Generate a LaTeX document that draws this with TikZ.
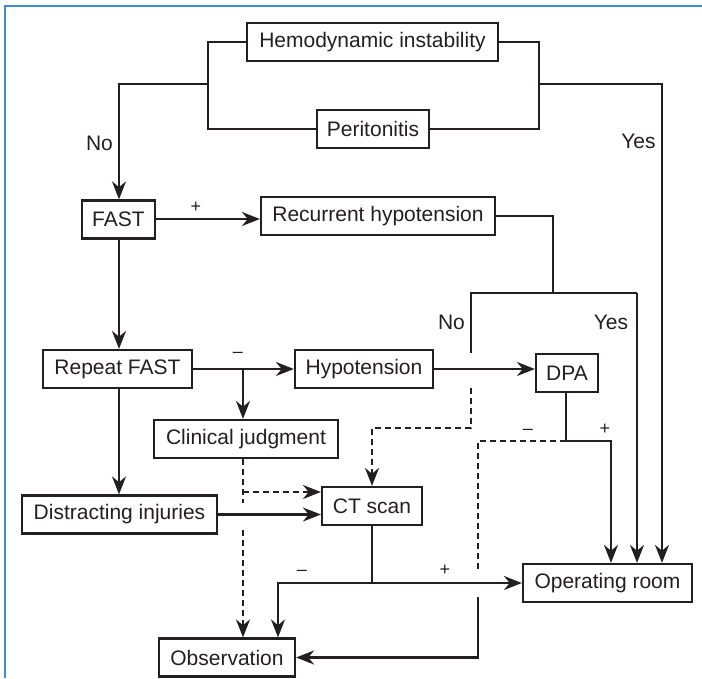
\documentclass[tikz,border=0pt]{standalone}
\usepackage{fontspec}
\setmainfont{Liberation Sans}
\usetikzlibrary{arrows.meta}
\definecolor{ink}{HTML}{231F20}
\definecolor{frameblue}{HTML}{3A8FD0}
\begin{document}
\begin{tikzpicture}[x=1pt,y=-1pt,
  box/.style={draw=ink, line width=2.2pt, minimum height=38pt, inner sep=0pt, font=\fontsize{21}{24}\selectfont, text=ink},
  ln/.style={draw=ink, line width=2.2pt},
  tip/.style={-{Stealth[length=18pt,width=14pt]}},
  arr/.style={ln, tip},
  dsh/.style={ln, dash pattern=on 6pt off 4pt},
  lbl/.style={font=\fontsize{21}{24}\selectfont, text=ink, inner sep=0pt},
  sgn/.style={font=\fontsize{18}{20}\selectfont, text=ink, inner sep=0pt}]
\useasboundingbox (0,0) rectangle (702,678);
% frame (top and left only)
\draw[frameblue, line width=2pt] (5,678) -- (5,5.5) -- (702,5.5);

% boxes
\node[box, minimum width=251pt] (hemo)  at (372.5,42)  {Hemodynamic instability};
\node[box, minimum width=112pt] (perit) at (373,129)   {Peritonitis};
\node[box, minimum width=73pt]  (fast)  at (118.5,219.5) {FAST};
\node[box, minimum width=234pt] (recur) at (378,216)   {Recurrent hypotension};
\node[box, minimum width=149pt] (rfast) at (117.5,369) {Repeat FAST};
\node[box, minimum width=138pt] (hypo)  at (364,369)   {Hypotension};
\node[box, minimum width=62pt]  (dpa)   at (567,373)   {DPA};
\node[box, minimum width=184pt] (clin)  at (246,439)   {Clinical judgment};
\node[box, minimum width=100pt] (ct)    at (372,506)   {CT scan};
\node[box, minimum width=195pt] (dist)  at (119.5,514.5) {Distracting injuries};
\node[box, minimum width=136pt] (obs)   at (227,657.5) {Observation};
\node[box, minimum width=169pt] (oroom) at (607.5,583) {Operating room};

% junction coordinates
\coordinate (lbt) at (208,42);
\coordinate (lbb) at (208,129);
\coordinate (lbm) at (208,84);
\coordinate (lbo) at (119,84);
\coordinate (rbt) at (539,42);
\coordinate (rbb) at (539,129);
\coordinate (rbm) at (539,84);
\coordinate (rbo) at (662,84);
\coordinate (fx)  at (119,219);
\coordinate (rc1) at (553,216);
\coordinate (rc2) at (553,293);
\coordinate (rcl) at (471,293);
\coordinate (rcr) at (637,293);
\coordinate (rcn) at (471,353);
\coordinate (rcd) at (471,388);
\coordinate (rce) at (471,428);
\coordinate (rcf) at (372,428);
\coordinate (rfj) at (243,369);
\coordinate (dp1) at (566,441);
\coordinate (dp2) at (611,441);
\coordinate (dp3) at (478,441);
\coordinate (dp4) at (478,569);
\coordinate (cj1) at (243,503);
\coordinate (cj2) at (243,492);
\coordinate (cj3) at (243,530);
\coordinate (ct1) at (372,583);
\coordinate (ct2) at (278,583);
\coordinate (ob1) at (478,597);
\coordinate (ob2) at (478,657.5);

% left bracket -> FAST
\draw[ln] (hemo.west) -- (lbt) -- (lbb) -- (perit.west);
\draw[arr] (lbm) -- (lbo) -- (lbo |- fast.north);
% right bracket -> OR
\draw[ln] (hemo.east) -- (rbt) -- (rbb) -- (perit.east);
\draw[arr] (rbm) -- (rbo) -- (rbo |- oroom.north);

% FAST
\draw[arr] (fx -| fast.east) -- (fx -| recur.west);
\draw[arr] (fx |- fast.south) -- (fx |- rfast.north);

% recurrent hypotension
\draw[ln] (recur.east) -- (rc1) -- (rc2);
\draw[ln] (rcn) -- (rcl) -- (rcr);
\draw[arr] (rcr) -- (rcr |- oroom.north);
\draw[dsh, tip] (rcd) -- (rce) -- (rcf) -- (ct.north);

% repeat FAST
\draw[arr] (rfast.east) -- (hypo.west);
\draw[arr] (rfj) -- (rfj |- clin.north);
\draw[arr] (fx |- rfast.south) -- (fx |- dist.north);

% hypotension -> DPA
\draw[arr] (hypo.east) -- (hypo.east -| dpa.west);

% DPA
\draw[ln] (dpa.south -| dp1) -- (dp1);
\draw[arr] (dp1) -- (dp2) -- (dp2 |- oroom.north);
\draw[dsh] (dp1) -- (dp3) -- (dp4);

% clinical judgment
\draw[dsh] (rfj |- clin.south) -- (cj1);
\draw[dsh, tip] (cj2) -- (cj2 -| ct.west);
\draw[dsh, tip] (cj3) -- (cj3 |- obs.north);

% distracting injuries -> CT
\draw[arr] (dist.east) -- (dist.east -| ct.west);

% CT scan
\draw[ln] (ct.south) -- (ct1);
\draw[arr] (ct1) -- (oroom.west);
\draw[arr] (ct1) -- (ct2) -- (ct2 |- obs.north);

% lower return to observation
\draw[arr] (ob1) -- (ob2) -- (obs.east);

% labels
\node[lbl] (lno1)  at (99.5,143)  {No};
\node[lbl] (lyes1) at (638.5,141) {Yes};
\node[lbl] (lno2)  at (451.5,322) {No};
\node[lbl] (lyes2) at (611,322)   {Yes};
\node[sgn] (s1) at (196,207) {+};
\node[sgn] (s2) at (238,355) {–};
\node[sgn] (s3) at (528,432) {–};
\node[sgn] (s4) at (605,429) {+};
\node[sgn] (s5) at (302,573) {–};
\node[sgn] (s6) at (445,570) {+};
\end{tikzpicture}
\end{document}
